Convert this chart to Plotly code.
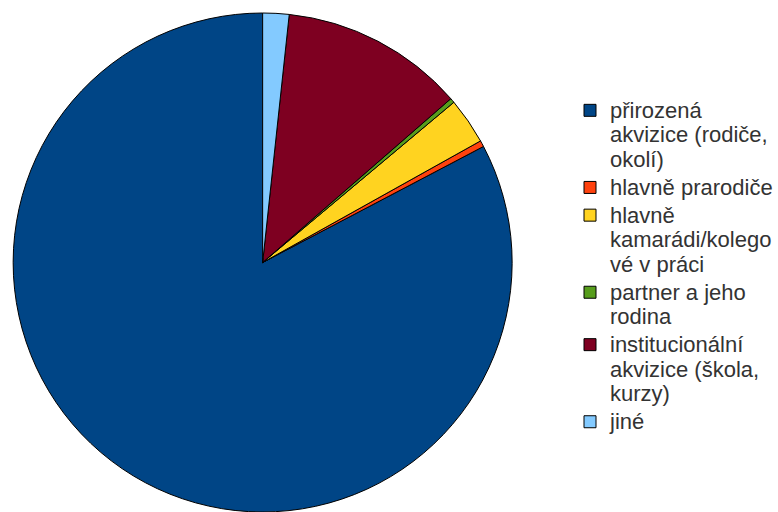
import plotly.graph_objects as go

# Zdroje osvojení jazyka (podíly v %)
labels = [
    "přirozená<br>akvizice (rodiče,<br>okolí)",
    "hlavně prarodiče",
    "hlavně<br>kamarádi/kolego<br>vé v práci",
    "partner a jeho<br>rodina",
    "institucionální<br>akvizice (škola,<br>kurzy)",
    "jiné",
]
values = [82.7, 0.4, 3.0, 0.3, 11.9, 1.7]
colors = ["#004586", "#ff420e", "#ffd320", "#579d1c", "#7e0021", "#83caff"]

# the first (largest) slice starts at 12 o'clock and runs counterclockwise
start_angle = 360 * (sum(values) - values[0]) / sum(values)

# larger glyphs inside a tighter legend line pitch
legend_text = ['<span style="font-size:22px">' + s.replace("<br>", '</span><br><span style="font-size:22px">') + "</span>"
               for s in labels]

fig = go.Figure(
    go.Pie(
        labels=legend_text,
        values=values,
        sort=False,
        direction="counterclockwise",
        rotation=start_angle,
        textinfo="none",
        hovertemplate="%{value}<extra></extra>",
        marker=dict(colors=colors, line=dict(color="#000000", width=1)),
        domain=dict(x=[0, 528 / 778], y=[0, 1]),
    )
)

fig.update_layout(
    width=778,
    height=512,
    margin=dict(l=0, r=0, t=13, b=0),
    paper_bgcolor="white",
    plot_bgcolor="white",
    font=dict(family="Liberation Sans, Arial, sans-serif", size=19, color="#333333"),
    showlegend=True,
    legend=dict(
        x=573 / 778,
        xanchor="left",
        y=0.492,
        yanchor="middle",
        valign="top",
        bgcolor="rgba(0,0,0,0)",
        itemwidth=30,
    ),
)

fig.write_html("out.html")
